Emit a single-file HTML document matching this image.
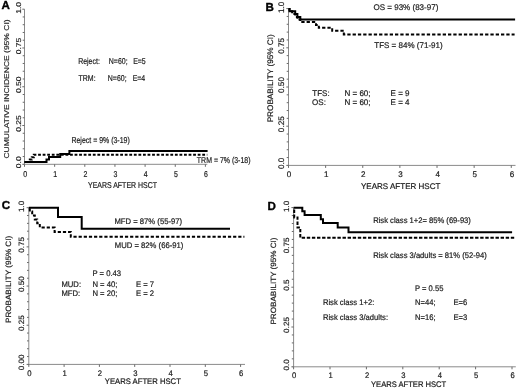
<!DOCTYPE html>
<html><head><meta charset="utf-8"><style>
html,body{margin:0;padding:0;background:#fff;}
svg{display:block;will-change:transform;filter:blur(0.3px);}
text{font-family:"Liberation Sans", sans-serif;text-rendering:geometricPrecision;stroke:#333;stroke-width:0.22px;paint-order:stroke;}
</style></head><body>
<svg width="520" height="390" viewBox="0 0 520 390">
<rect width="520" height="390" fill="#fff"/>
<path d="M24.5,9.2 V164.3 M23.5,164.3 H207.3" stroke="#8a8a8a" stroke-width="1" fill="none"/>
<path d="M24.5,164.30 h-2.2 M24.5,156.55 h-1.8 M24.5,148.79 h-1.8 M24.5,141.03 h-1.8 M24.5,133.28 h-1.8 M24.5,125.53 h-2.2 M24.5,117.77 h-1.8 M24.5,110.02 h-1.8 M24.5,102.26 h-1.8 M24.5,94.51 h-1.8 M24.5,86.75 h-2.2 M24.5,78.99 h-1.8 M24.5,71.24 h-1.8 M24.5,63.48 h-1.8 M24.5,55.73 h-1.8 M24.5,47.97 h-2.2 M24.5,40.22 h-1.8 M24.5,32.47 h-1.8 M24.5,24.71 h-1.8 M24.5,16.95 h-1.8 M24.5,9.20 h-2.2 M24.50,164.3 v2.5 M54.65,164.3 v2.5 M84.80,164.3 v2.5 M114.95,164.3 v2.5 M145.10,164.3 v2.5 M175.25,164.3 v2.5 M205.40,164.3 v2.5" stroke="#6a6a6a" stroke-width="1" fill="none"/>
<text transform="translate(21.30,162.30) scale(0.82,1) rotate(-90)" font-size="8.5" fill="#1a1a1a" text-anchor="middle">0.0</text>
<text transform="translate(21.30,123.53) scale(0.82,1) rotate(-90)" font-size="8.5" fill="#1a1a1a" text-anchor="middle">0.25</text>
<text transform="translate(21.30,84.75) scale(0.82,1) rotate(-90)" font-size="8.5" fill="#1a1a1a" text-anchor="middle">0.50</text>
<text transform="translate(21.30,45.97) scale(0.82,1) rotate(-90)" font-size="8.5" fill="#1a1a1a" text-anchor="middle">0.75</text>
<text transform="translate(21.30,7.90) scale(0.82,1) rotate(-90)" font-size="8.5" fill="#1a1a1a" text-anchor="middle">1.0</text>
<text transform="translate(25.10,176.80) scale(0.82,1)" font-size="8.5" fill="#1a1a1a" text-anchor="middle">0</text>
<text transform="translate(55.25,176.80) scale(0.82,1)" font-size="8.5" fill="#1a1a1a" text-anchor="middle">1</text>
<text transform="translate(85.40,176.80) scale(0.82,1)" font-size="8.5" fill="#1a1a1a" text-anchor="middle">2</text>
<text transform="translate(115.55,176.80) scale(0.82,1)" font-size="8.5" fill="#1a1a1a" text-anchor="middle">3</text>
<text transform="translate(145.70,176.80) scale(0.82,1)" font-size="8.5" fill="#1a1a1a" text-anchor="middle">4</text>
<text transform="translate(175.85,176.80) scale(0.82,1)" font-size="8.5" fill="#1a1a1a" text-anchor="middle">5</text>
<text transform="translate(206.00,176.80) scale(0.82,1)" font-size="8.5" fill="#1a1a1a" text-anchor="middle">6</text>
<text transform="translate(8.80,89.00) scale(0.82,1) rotate(-90)" font-size="8.5" fill="#1a1a1a" text-anchor="middle">CUMULATIVE INCIDENCE (95% CI)</text>
<text transform="translate(88.03,187.50) scale(0.82,1)" font-size="8.5" font-weight="normal" fill="#1a1a1a">YEARS AFTER HSCT</text>
<text transform="translate(78.14,63.80) scale(0.82,1)" font-size="8.5" font-weight="normal" fill="#1a1a1a">Reject:</text>
<text transform="translate(108.84,63.80) scale(0.82,1)" font-size="8.5" font-weight="normal" fill="#1a1a1a">N=60;</text>
<text transform="translate(133.14,63.80) scale(0.82,1)" font-size="8.5" font-weight="normal" fill="#1a1a1a">E=5</text>
<text transform="translate(78.56,80.80) scale(0.82,1)" font-size="8.5" font-weight="normal" fill="#1a1a1a">TRM:</text>
<text transform="translate(107.84,80.80) scale(0.82,1)" font-size="8.5" font-weight="normal" fill="#1a1a1a">N=60;</text>
<text transform="translate(132.64,80.80) scale(0.82,1)" font-size="8.5" font-weight="normal" fill="#1a1a1a">E=4</text>
<text transform="translate(71.44,143.20) scale(0.82,1)" font-size="8.5" font-weight="normal" fill="#1a1a1a">Reject = 9% (3-19)</text>
<text transform="translate(196.86,163.10) scale(0.82,1)" font-size="8.5" font-weight="normal" fill="#1a1a1a">TRM = 7% (3-18)</text>
<path d="M24.5,162 H46.5 V159.4 H49 V156.9 H60.2 V153.9 H69.4 V150.9 H207.6" stroke="#000" stroke-width="2" fill="none" stroke-linejoin="miter" stroke-linecap="butt"/>
<path d="M24.5,162 H29.8 V159.5 H31.8 V157.2 H33.8 V154.8 H207.3" stroke="#000" stroke-width="2" fill="none" stroke-dasharray="2.8 1.76" stroke-dashoffset="2.00" stroke-linejoin="miter" stroke-linecap="butt"/>
<text transform="translate(1.50,9.30) scale(1,1)" font-size="11.6" font-weight="bold" fill="#000" style="stroke:#000;stroke-width:0.35px;stroke-linejoin:round">A</text>
<path d="M288.5,8.6 V165.4 M287.5,165.4 H515.5" stroke="#8a8a8a" stroke-width="1" fill="none"/>
<path d="M288.5,165.40 h-2.2 M288.5,157.56 h-1.8 M288.5,149.72 h-1.8 M288.5,141.88 h-1.8 M288.5,134.04 h-1.8 M288.5,126.20 h-2.2 M288.5,118.36 h-1.8 M288.5,110.52 h-1.8 M288.5,102.68 h-1.8 M288.5,94.84 h-1.8 M288.5,87.00 h-2.2 M288.5,79.16 h-1.8 M288.5,71.32 h-1.8 M288.5,63.48 h-1.8 M288.5,55.64 h-1.8 M288.5,47.80 h-2.2 M288.5,39.96 h-1.8 M288.5,32.12 h-1.8 M288.5,24.28 h-1.8 M288.5,16.44 h-1.8 M288.5,8.60 h-2.2 M288.50,165.4 v2.5 M325.63,165.4 v2.5 M362.76,165.4 v2.5 M399.89,165.4 v2.5 M437.02,165.4 v2.5 M474.15,165.4 v2.5 M511.28,165.4 v2.5" stroke="#6a6a6a" stroke-width="1" fill="none"/>
<text transform="translate(284.20,163.40) scale(0.98,1) rotate(-90)" font-size="8.2" fill="#1a1a1a" text-anchor="middle">0.0</text>
<text transform="translate(284.20,124.20) scale(0.98,1) rotate(-90)" font-size="8.2" fill="#1a1a1a" text-anchor="middle">0.25</text>
<text transform="translate(284.20,85.00) scale(0.98,1) rotate(-90)" font-size="8.2" fill="#1a1a1a" text-anchor="middle">0.50</text>
<text transform="translate(284.20,45.80) scale(0.98,1) rotate(-90)" font-size="8.2" fill="#1a1a1a" text-anchor="middle">0.75</text>
<text transform="translate(284.20,7.30) scale(0.98,1) rotate(-90)" font-size="8.2" fill="#1a1a1a" text-anchor="middle">1.0</text>
<text transform="translate(289.10,176.80) scale(0.98,1)" font-size="8.2" fill="#1a1a1a" text-anchor="middle">0</text>
<text transform="translate(326.23,176.80) scale(0.98,1)" font-size="8.2" fill="#1a1a1a" text-anchor="middle">1</text>
<text transform="translate(363.36,176.80) scale(0.98,1)" font-size="8.2" fill="#1a1a1a" text-anchor="middle">2</text>
<text transform="translate(400.49,176.80) scale(0.98,1)" font-size="8.2" fill="#1a1a1a" text-anchor="middle">3</text>
<text transform="translate(437.62,176.80) scale(0.98,1)" font-size="8.2" fill="#1a1a1a" text-anchor="middle">4</text>
<text transform="translate(474.75,176.80) scale(0.98,1)" font-size="8.2" fill="#1a1a1a" text-anchor="middle">5</text>
<text transform="translate(511.88,176.80) scale(0.98,1)" font-size="8.2" fill="#1a1a1a" text-anchor="middle">6</text>
<text transform="translate(272.80,78.30) scale(0.98,1) rotate(-90)" font-size="8.2" fill="#1a1a1a" text-anchor="middle">PROBABILITY (95% CI)</text>
<text transform="translate(361.00,188.50) scale(0.98,1)" font-size="8.2" font-weight="normal" fill="#1a1a1a">YEARS AFTER HSCT</text>
<text transform="translate(373.44,10.10) scale(0.98,1)" font-size="8.2" font-weight="normal" fill="#1a1a1a">OS = 93% (83-97)</text>
<text transform="translate(374.24,48.10) scale(0.98,1)" font-size="8.2" font-weight="normal" fill="#1a1a1a">TFS = 84% (71-91)</text>
<text transform="translate(312.24,95.80) scale(0.98,1)" font-size="8.2" font-weight="normal" fill="#1a1a1a">TFS:</text>
<text transform="translate(344.46,95.80) scale(0.98,1)" font-size="8.2" font-weight="normal" fill="#1a1a1a">N = 60;</text>
<text transform="translate(390.56,95.80) scale(0.98,1)" font-size="8.2" font-weight="normal" fill="#1a1a1a">E = 9</text>
<text transform="translate(312.04,105.20) scale(0.98,1)" font-size="8.2" font-weight="normal" fill="#1a1a1a">OS:</text>
<text transform="translate(344.46,105.20) scale(0.98,1)" font-size="8.2" font-weight="normal" fill="#1a1a1a">N = 60;</text>
<text transform="translate(390.56,105.20) scale(0.98,1)" font-size="8.2" font-weight="normal" fill="#1a1a1a">E = 4</text>
<path d="M288.5,9 H289.5 V11.3 H295.2 V14.1 H297.4 V16.9 H300.3 V19.4 H515.1" stroke="#000" stroke-width="2" fill="none" stroke-linejoin="miter" stroke-linecap="butt"/>
<path d="M288.5,9 H289.5 V11.3 H292.2 V14.1 H295.2 V16.9 H297.4 V19.6 H300.3 V22.1 H316 V24.9 H318.8 V27.8 H332.2 V30.7 H343.8 V34.4 H514.6" stroke="#000" stroke-width="2" fill="none" stroke-dasharray="3.3 2" stroke-dashoffset="0.60" stroke-linejoin="miter" stroke-linecap="butt"/>
<text transform="translate(265.60,10.70) scale(1,1)" font-size="11.6" font-weight="bold" fill="#000" style="stroke:#000;stroke-width:0.35px;stroke-linejoin:round">B</text>
<path d="M28.8,207.7 V364.4 M27.8,364.4 H245" stroke="#8a8a8a" stroke-width="1" fill="none"/>
<path d="M28.8,364.40 h-2.2 M28.8,356.56 h-1.8 M28.8,348.73 h-1.8 M28.8,340.89 h-1.8 M28.8,333.06 h-1.8 M28.8,325.22 h-2.2 M28.8,317.39 h-1.8 M28.8,309.56 h-1.8 M28.8,301.72 h-1.8 M28.8,293.88 h-1.8 M28.8,286.05 h-2.2 M28.8,278.21 h-1.8 M28.8,270.38 h-1.8 M28.8,262.54 h-1.8 M28.8,254.71 h-1.8 M28.8,246.87 h-2.2 M28.8,239.04 h-1.8 M28.8,231.20 h-1.8 M28.8,223.37 h-1.8 M28.8,215.53 h-1.8 M28.8,207.70 h-2.2 M28.80,364.4 v2.5 M64.10,364.4 v2.5 M99.40,364.4 v2.5 M134.70,364.4 v2.5 M170.00,364.4 v2.5 M205.30,364.4 v2.5 M240.60,364.4 v2.5" stroke="#6a6a6a" stroke-width="1" fill="none"/>
<text transform="translate(24.20,362.40) scale(0.95,1) rotate(-90)" font-size="8.1" fill="#1a1a1a" text-anchor="middle">0.00</text>
<text transform="translate(24.20,323.22) scale(0.95,1) rotate(-90)" font-size="8.1" fill="#1a1a1a" text-anchor="middle">0.25</text>
<text transform="translate(24.20,284.05) scale(0.95,1) rotate(-90)" font-size="8.1" fill="#1a1a1a" text-anchor="middle">0.50</text>
<text transform="translate(24.20,244.88) scale(0.95,1) rotate(-90)" font-size="8.1" fill="#1a1a1a" text-anchor="middle">0.75</text>
<text transform="translate(24.20,206.40) scale(0.95,1) rotate(-90)" font-size="8.1" fill="#1a1a1a" text-anchor="middle">1.0</text>
<text transform="translate(29.40,375.90) scale(0.95,1)" font-size="8.1" fill="#1a1a1a" text-anchor="middle">0</text>
<text transform="translate(64.70,375.90) scale(0.95,1)" font-size="8.1" fill="#1a1a1a" text-anchor="middle">1</text>
<text transform="translate(100.00,375.90) scale(0.95,1)" font-size="8.1" fill="#1a1a1a" text-anchor="middle">2</text>
<text transform="translate(135.30,375.90) scale(0.95,1)" font-size="8.1" fill="#1a1a1a" text-anchor="middle">3</text>
<text transform="translate(170.60,375.90) scale(0.95,1)" font-size="8.1" fill="#1a1a1a" text-anchor="middle">4</text>
<text transform="translate(205.90,375.90) scale(0.95,1)" font-size="8.1" fill="#1a1a1a" text-anchor="middle">5</text>
<text transform="translate(241.20,375.90) scale(0.95,1)" font-size="8.1" fill="#1a1a1a" text-anchor="middle">6</text>
<text transform="translate(10.50,279.40) scale(0.95,1) rotate(-90)" font-size="8.1" fill="#1a1a1a" text-anchor="middle">PROBABILITY (95% CI)</text>
<text transform="translate(104.81,384.20) scale(0.95,1)" font-size="8.1" font-weight="normal" fill="#1a1a1a">YEARS AFTER HSCT</text>
<text transform="translate(114.38,224.20) scale(0.95,1)" font-size="8.1" font-weight="normal" fill="#1a1a1a">MFD = 87% (55-97)</text>
<text transform="translate(114.78,248.20) scale(0.95,1)" font-size="8.1" font-weight="normal" fill="#1a1a1a">MUD = 82% (66-91)</text>
<text transform="translate(92.38,275.50) scale(0.95,1)" font-size="8.1" font-weight="normal" fill="#1a1a1a">P = 0.43</text>
<text transform="translate(61.38,286.50) scale(0.95,1)" font-size="8.1" font-weight="normal" fill="#1a1a1a">MUD:</text>
<text transform="translate(92.38,286.50) scale(0.95,1)" font-size="8.1" font-weight="normal" fill="#1a1a1a">N = 40;</text>
<text transform="translate(135.88,286.50) scale(0.95,1)" font-size="8.1" font-weight="normal" fill="#1a1a1a">E = 7</text>
<text transform="translate(61.38,295.90) scale(0.95,1)" font-size="8.1" font-weight="normal" fill="#1a1a1a">MFD:</text>
<text transform="translate(92.38,295.90) scale(0.95,1)" font-size="8.1" font-weight="normal" fill="#1a1a1a">N = 20;</text>
<text transform="translate(135.88,295.90) scale(0.95,1)" font-size="8.1" font-weight="normal" fill="#1a1a1a">E = 2</text>
<path d="M28.8,207.8 H58 V216.9 H81.7 V228.8 H230" stroke="#000" stroke-width="2" fill="none" stroke-linejoin="miter" stroke-linecap="butt"/>
<path d="M28.8,207.8 H29.8 V211.6 H32.2 V215.5 H34.8 V219.4 H37.2 V223.3 H39.8 V227.5 H54.6 V231.9 H70.8 V236.8 H244.4" stroke="#000" stroke-width="2" fill="none" stroke-dasharray="3.2 1.95" stroke-dashoffset="3.60" stroke-linejoin="miter" stroke-linecap="butt"/>
<text transform="translate(1.80,209.00) scale(1,1)" font-size="11.6" font-weight="bold" fill="#000" style="stroke:#000;stroke-width:0.35px;stroke-linejoin:round">C</text>
<path d="M293.6,207.6 V366.8 M292.6,366.8 H515.8" stroke="#8a8a8a" stroke-width="1" fill="none"/>
<path d="M293.6,366.80 h-2.2 M293.6,358.84 h-1.8 M293.6,350.88 h-1.8 M293.6,342.92 h-1.8 M293.6,334.96 h-1.8 M293.6,327.00 h-2.2 M293.6,319.04 h-1.8 M293.6,311.08 h-1.8 M293.6,303.12 h-1.8 M293.6,295.16 h-1.8 M293.6,287.20 h-2.2 M293.6,279.24 h-1.8 M293.6,271.28 h-1.8 M293.6,263.32 h-1.8 M293.6,255.36 h-1.8 M293.6,247.40 h-2.2 M293.6,239.44 h-1.8 M293.6,231.48 h-1.8 M293.6,223.52 h-1.8 M293.6,215.56 h-1.8 M293.6,207.60 h-2.2 M293.60,366.8 v2.5 M330.00,366.8 v2.5 M366.40,366.8 v2.5 M402.80,366.8 v2.5 M439.20,366.8 v2.5 M475.60,366.8 v2.5 M512.00,366.8 v2.5" stroke="#6a6a6a" stroke-width="1" fill="none"/>
<text transform="translate(288.90,364.80) scale(0.94,1) rotate(-90)" font-size="8.1" fill="#1a1a1a" text-anchor="middle">0.0</text>
<text transform="translate(288.90,325.00) scale(0.94,1) rotate(-90)" font-size="8.1" fill="#1a1a1a" text-anchor="middle">0.25</text>
<text transform="translate(288.90,285.20) scale(0.94,1) rotate(-90)" font-size="8.1" fill="#1a1a1a" text-anchor="middle">0.5</text>
<text transform="translate(288.90,245.40) scale(0.94,1) rotate(-90)" font-size="8.1" fill="#1a1a1a" text-anchor="middle">0.75</text>
<text transform="translate(288.90,206.30) scale(0.94,1) rotate(-90)" font-size="8.1" fill="#1a1a1a" text-anchor="middle">1.0</text>
<text transform="translate(294.20,378.40) scale(0.94,1)" font-size="8.1" fill="#1a1a1a" text-anchor="middle">0</text>
<text transform="translate(330.60,378.40) scale(0.94,1)" font-size="8.1" fill="#1a1a1a" text-anchor="middle">1</text>
<text transform="translate(367.00,378.40) scale(0.94,1)" font-size="8.1" fill="#1a1a1a" text-anchor="middle">2</text>
<text transform="translate(403.40,378.40) scale(0.94,1)" font-size="8.1" fill="#1a1a1a" text-anchor="middle">3</text>
<text transform="translate(439.80,378.40) scale(0.94,1)" font-size="8.1" fill="#1a1a1a" text-anchor="middle">4</text>
<text transform="translate(476.20,378.40) scale(0.94,1)" font-size="8.1" fill="#1a1a1a" text-anchor="middle">5</text>
<text transform="translate(512.60,378.40) scale(0.94,1)" font-size="8.1" fill="#1a1a1a" text-anchor="middle">6</text>
<text transform="translate(276.20,281.00) scale(0.94,1) rotate(-90)" font-size="8.1" fill="#1a1a1a" text-anchor="middle">PROBABILITY (95% CI)</text>
<text transform="translate(371.01,386.90) scale(0.94,1)" font-size="8.1" font-weight="normal" fill="#1a1a1a">YEARS AFTER HSCT</text>
<text transform="translate(373.19,223.20) scale(0.94,1)" font-size="8.1" font-weight="normal" fill="#1a1a1a">Risk class 1+2= 85% (69-93)</text>
<text transform="translate(373.19,258.20) scale(0.94,1)" font-size="8.1" font-weight="normal" fill="#1a1a1a">Risk class 3/adults = 81% (52-94)</text>
<text transform="translate(414.99,290.60) scale(0.94,1)" font-size="8.1" font-weight="normal" fill="#1a1a1a">P = 0.55</text>
<text transform="translate(322.89,304.60) scale(0.94,1)" font-size="8.1" font-weight="normal" fill="#1a1a1a">Risk class 1+2:</text>
<text transform="translate(414.99,304.60) scale(0.94,1)" font-size="8.1" font-weight="normal" fill="#1a1a1a">N=44;</text>
<text transform="translate(453.39,304.60) scale(0.94,1)" font-size="8.1" font-weight="normal" fill="#1a1a1a">E=6</text>
<text transform="translate(322.89,320.00) scale(0.94,1)" font-size="8.1" font-weight="normal" fill="#1a1a1a">Risk class 3/adults:</text>
<text transform="translate(414.99,320.00) scale(0.94,1)" font-size="8.1" font-weight="normal" fill="#1a1a1a">N=16;</text>
<text transform="translate(453.39,320.00) scale(0.94,1)" font-size="8.1" font-weight="normal" fill="#1a1a1a">E=3</text>
<path d="M293.6,207.7 H302.3 V211.2 H304.6 V214.9 H320.8 V219.2 H323 V223.1 H337.7 V227.4 H348.5 V232.3 H512.1" stroke="#000" stroke-width="2" fill="none" stroke-linejoin="miter" stroke-linecap="butt"/>
<path d="M294.2,207.7 V217.4 H297.5 V227.6 H300.3 V237.7 H514.4" stroke="#000" stroke-width="2" fill="none" stroke-dasharray="3.4 1.7" stroke-dashoffset="3.30" stroke-linejoin="miter" stroke-linecap="butt"/>
<text transform="translate(267.60,209.90) scale(1,1)" font-size="11.6" font-weight="bold" fill="#000" style="stroke:#000;stroke-width:0.35px;stroke-linejoin:round">D</text>
</svg>
</body></html>
